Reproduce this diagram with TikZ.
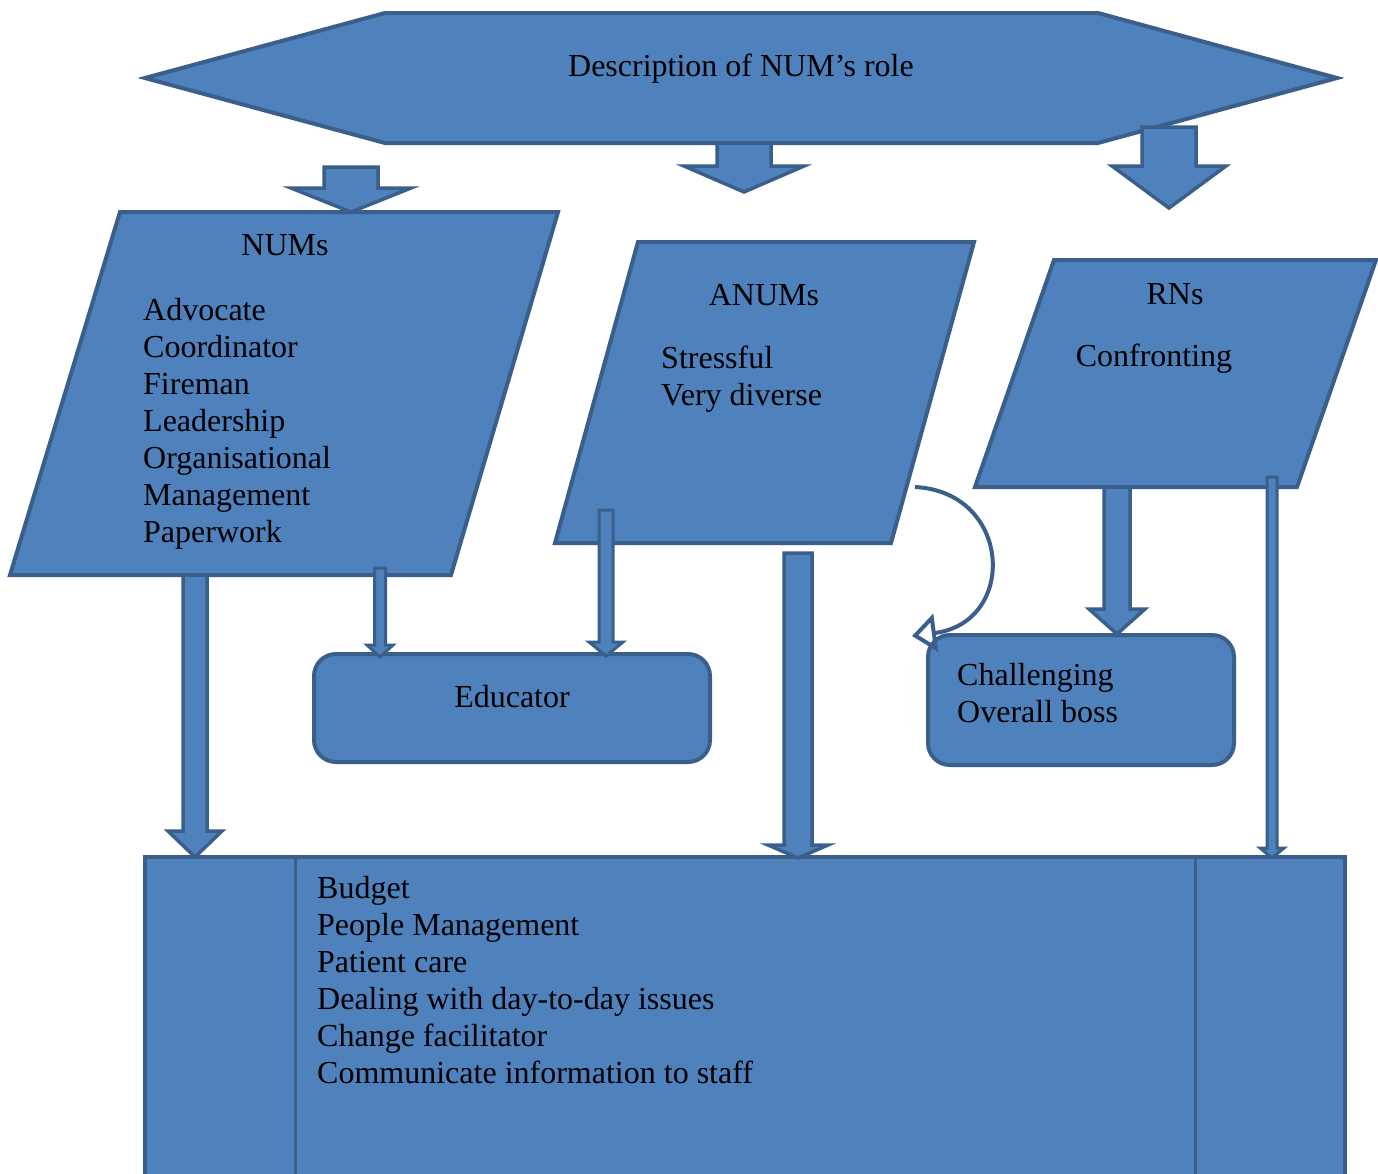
\documentclass[tikz,border=0pt]{standalone}
\usepackage{fontspec}
\setmainfont{Liberation Serif}
\usetikzlibrary{arrows.meta}
\definecolor{boxfill}{HTML}{4F81BD}
\definecolor{boxline}{HTML}{3A5F8B}
\tikzset{
  shapebox/.style={fill=boxfill, draw=boxline, line width=4pt, line join=miter},
  arrowbody/.style={fill=boxfill, draw=boxline, line width=3.5pt, line join=miter},
  thinarrow/.style={fill=boxfill, draw=boxline, line width=3pt, line join=miter},
  txt/.style={font=\fontsize{32}{37}\selectfont, inner sep=0pt, text=black},
  listtxt/.style={txt, align=left, anchor=north west},
}
% block arrow pointing down: style, x centre, y top, y head, y tip, shaft half-width, head half-width
\newcommand{\blockarrow}[7]{%
  \draw[#1] ({#2-#6},#3) -- ({#2+#6},#3) -- ({#2+#6},#4) -- ({#2+#7},#4)
    -- (#2,#5) -- ({#2-#7},#4) -- ({#2-#6},#4) -- cycle;}
\begin{document}
\begin{tikzpicture}[x=1pt,y=-1pt]
\useasboundingbox (0,0) rectangle (1378,1173);
\fill[white] (0,0) rectangle (1378,1173);

% heading hexagon
\draw[shapebox] (145,78) -- (385,13) -- (1098,13) -- (1337,78) -- (1098,143) -- (385,143) -- cycle;
\node[txt, anchor=base] (role) at (741,76) {Description of NUM’s role};

% bottom panel
\draw[shapebox] (145,857) rectangle (1345,1195);
\draw[boxline, line width=3pt] (295,857) -- (295,1195);
\draw[boxline, line width=3pt] (1195,857) -- (1195,1195);
\node[listtxt] (tasks) at (317,876) {Budget\\People Management\\Patient care\\Dealing with day-to-day issues\\Change facilitator\\Communicate information to staff};

% parallelograms
\draw[shapebox] (120,212) -- (558,212) -- (451,575) -- (10,575) -- cycle;
\node[txt, anchor=base] (nums) at (285,255) {NUMs};
\node[listtxt] (numlist) at (143,298) {Advocate\\Coordinator\\Fireman\\Leadership\\Organisational\\Management\\Paperwork};

\draw[shapebox] (638,242) -- (974,242) -- (891,543) -- (555,543) -- cycle;
\node[txt, anchor=base] (anums) at (764,305) {ANUMs};
\node[listtxt] (anumlist) at (661,346) {Stressful\\Very diverse};

\draw[shapebox] (1054,260) -- (1376,260) -- (1297,487) -- (975,487) -- cycle;
\node[txt, anchor=base] (rns) at (1175,304) {RNs};
\node[txt, anchor=base] (confront) at (1154,366) {Confronting};

% rounded boxes
\draw[shapebox, rounded corners=22pt] (314,654) rectangle (710,762);
\node[txt, anchor=base] (educator) at (512,707) {Educator};
\draw[shapebox, rounded corners=22pt] (928,635) rectangle (1234,765);
\node[listtxt] (challenge) at (957,663) {Challenging\\Overall boss};

% arrows from the heading
\blockarrow{arrowbody}{351}{167}{188}{212}{27}{60}
\blockarrow{arrowbody}{744}{143}{166}{192}{27}{60}
\blockarrow{arrowbody}{1169}{127}{166}{208}{27}{57}

% arrows down to the boxes
\blockarrow{arrowbody}{195}{575}{831}{857}{12}{27}
\blockarrow{thinarrow}{380}{568}{645}{657}{5.5}{13}
\blockarrow{thinarrow}{606}{510}{642}{656}{7}{17}
\blockarrow{arrowbody}{798}{553}{845}{858}{14}{30}
\blockarrow{arrowbody}{1117}{487}{609}{634}{13}{28}
\blockarrow{thinarrow}{1272}{477}{848}{858}{5}{12}

% curved arrow from ANUMs to the Challenging box
\coordinate (cstart) at (915,487);
\coordinate (cend) at (912,636);
\draw[boxline, line width=4pt, -{Triangle[open, length=24pt, width=38pt, line width=4pt]}]
  (cstart) .. controls (1012,492) and (1018,622) .. (cend);
\end{tikzpicture}
\end{document}
